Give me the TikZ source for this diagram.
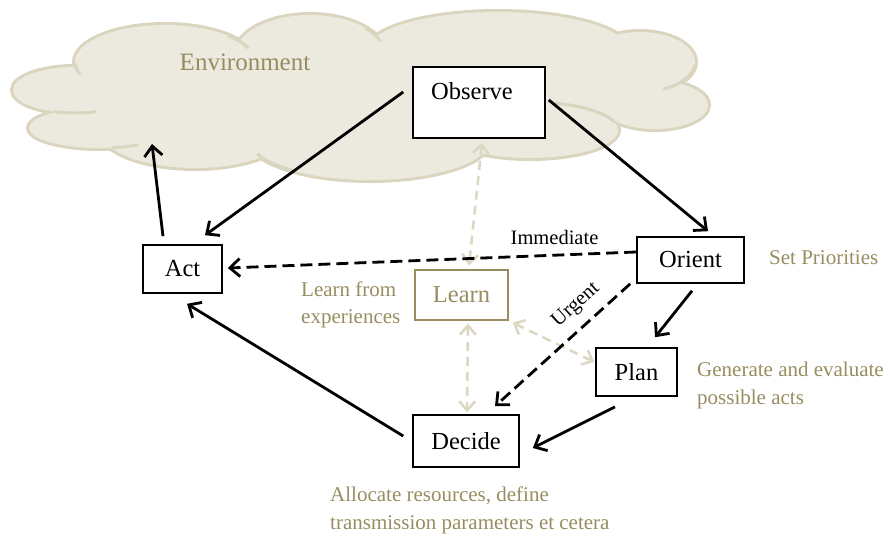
\documentclass[tikz,border=0pt]{standalone}
\usepackage{fontspec}
\setmainfont{Liberation Serif}
\usetikzlibrary{arrows.meta,calc}

\definecolor{olivetext}{HTML}{978D60}
\definecolor{cloudfill}{HTML}{ECEADF}
\definecolor{cloudline}{HTML}{DAD5BE}
\definecolor{learnline}{HTML}{DDD8C4}

% part of one lobe outline, running into the cloud's inside
\newcommand\cloudseam[6]{%
  \draw[seam] (#1,#2) ++(#5:#3 and #4) arc[start angle=#5,end angle=#6,x radius=#3,y radius=#4];}

\begin{document}
\begin{tikzpicture}[x=1pt,y=-1pt,
  box/.style={draw=black,line width=1.6pt,fill=white,inner sep=0pt,
    font=\fontsize{24.5}{28}\selectfont},
  note/.style={text=olivetext,inner sep=0pt,align=left,anchor=west,
    font=\fontsize{21}{27.5}\selectfont},
  flow/.style={line width=2.8pt,-{Straight Barb[length=10pt,width=18pt]}},
  shortcut/.style={flow,dash pattern=on 12pt off 6pt},
  learnflow/.style={draw=learnline,line width=2.6pt,dash pattern=on 9pt off 6pt,
    {Straight Barb[length=9pt,width=16pt]}-{Straight Barb[length=9pt,width=16pt]}},
  tag/.style={inner sep=1pt,font=\fontsize{20.5}{24}\selectfont},
  seam/.style={cloudline,line width=3pt}
]
\useasboundingbox (0,0) rectangle (890,541);

% environment cloud: outline of all lobes, then the fill covers the inner halves
\def\lobes{75/90/62/23, 100/128/71/20, 165/62/90/37, 310/55/75/40,
  498/50/130/38, 640/62/55/30, 655/105/53/24, 530/130/88/28,
  370/140/120/40, 195/130/95/38, 370/90/280/50}
\foreach \cx/\cy/\rx/\ry in \lobes
  \draw[cloudline,line width=6pt] (\cx,\cy) ellipse [x radius=\rx,y radius=\ry];
\foreach \cx/\cy/\rx/\ry in \lobes
  \fill[cloudfill] (\cx,\cy) ellipse [x radius=\rx,y radius=\ry];
% seams where the lobes meet
\cloudseam{75}{90}{62}{23}{70}{110}
\cloudseam{165}{62}{90}{37}{160}{178}
\cloudseam{100}{128}{71}{20}{58}{80}
\cloudseam{165}{62}{90}{37}{-45}{-22}
\cloudseam{370}{140}{120}{40}{128}{160}
\cloudseam{310}{55}{75}{40}{-42}{-20}
\cloudseam{640}{62}{55}{30}{5}{65}
\cloudseam{530}{130}{88}{28}{-75}{-15}
\cloudseam{530}{130}{88}{28}{165}{185}

\node[text=olivetext,font=\fontsize{25}{28}\selectfont,inner sep=0pt] (env) at (245,62) {Environment};
\coordinate (envin) at (152,144);

% the six stages
\node[box,minimum width=132pt,minimum height=71pt] (obs) at (479,102.5) {};
\node[inner sep=0pt,font=\fontsize{24.5}{28}\selectfont] (obstext) at (472,91) {Observe};
\node[box,minimum width=107pt,minimum height=46pt] (ori) at (690.5,260) {Orient};
\node[box,minimum width=79pt,minimum height=48pt] (act) at (182.5,269) {Act};
\node[box,draw=olivetext,text=olivetext,line width=1.3pt,minimum width=93pt,minimum height=50pt] (lrn) at (461.5,295) {Learn};
\node[box,minimum width=81pt,minimum height=48pt] (pln) at (636.5,372) {Plan};
\node[box,minimum width=106pt,minimum height=52pt] (dec) at (466,441) {Decide};

% side notes
\node[note] (setp) at (769,258) {Set Priorities};
\node[note] (lfe) at (301,305) {Learn from\\experiences};
\node[note] (gen) at (697,385.5) {Generate and evaluate\\possible acts};
\node[note] (alloc) at (330,510.5) {Allocate resources, define\\transmission parameters et cetera};

% learning links
\draw[learnflow] ($(obs.south)+(3,4)$) -- ($(lrn.north)+(7.5,-4)$);
\draw[learnflow] ($(lrn.south)+(6.5,3)$) -- ($(dec.north)+(1,-2)$);
\draw[learnflow] ($(lrn.south east)+(4,2)$) -- ($(pln.west)+(-1,-10)$);

% main loop
\draw[flow] ($(obs.west)+(-9,-10.5)$) -- ($(act.north)+(22.5,-9)$);
\draw[flow] ($(obs.east)+(3,-2.5)$) -- ($(ori.north)+(17.5,-5)$);
\draw[flow] ($(act.north)+(-19.5,-8)$) -- (envin);
\draw[flow] ($(ori.south)+(1.5,7)$) -- ($(pln.north)+(18.5,-10)$);
\draw[flow] ($(pln.south)+(-21.5,10)$) -- ($(dec.east)+(13,7)$);
\draw[flow] ($(dec.west)+(-9,-5)$) -- ($(act.south)+(4.5,10)$);

% shortcuts
\draw[shortcut] ($(ori.west)+(0,-8)$) -- node[tag,pos=0.2,above=8pt] (imm) {Immediate} ($(act.east)+(5,-1)$);
\draw[shortcut] ($(ori.south west)+(-6,0)$) -- node[tag,pos=0.30,above=9pt,sloped] (urg) {Urgent} ($(dec.north)+(29,-8)$);
\end{tikzpicture}
\end{document}
